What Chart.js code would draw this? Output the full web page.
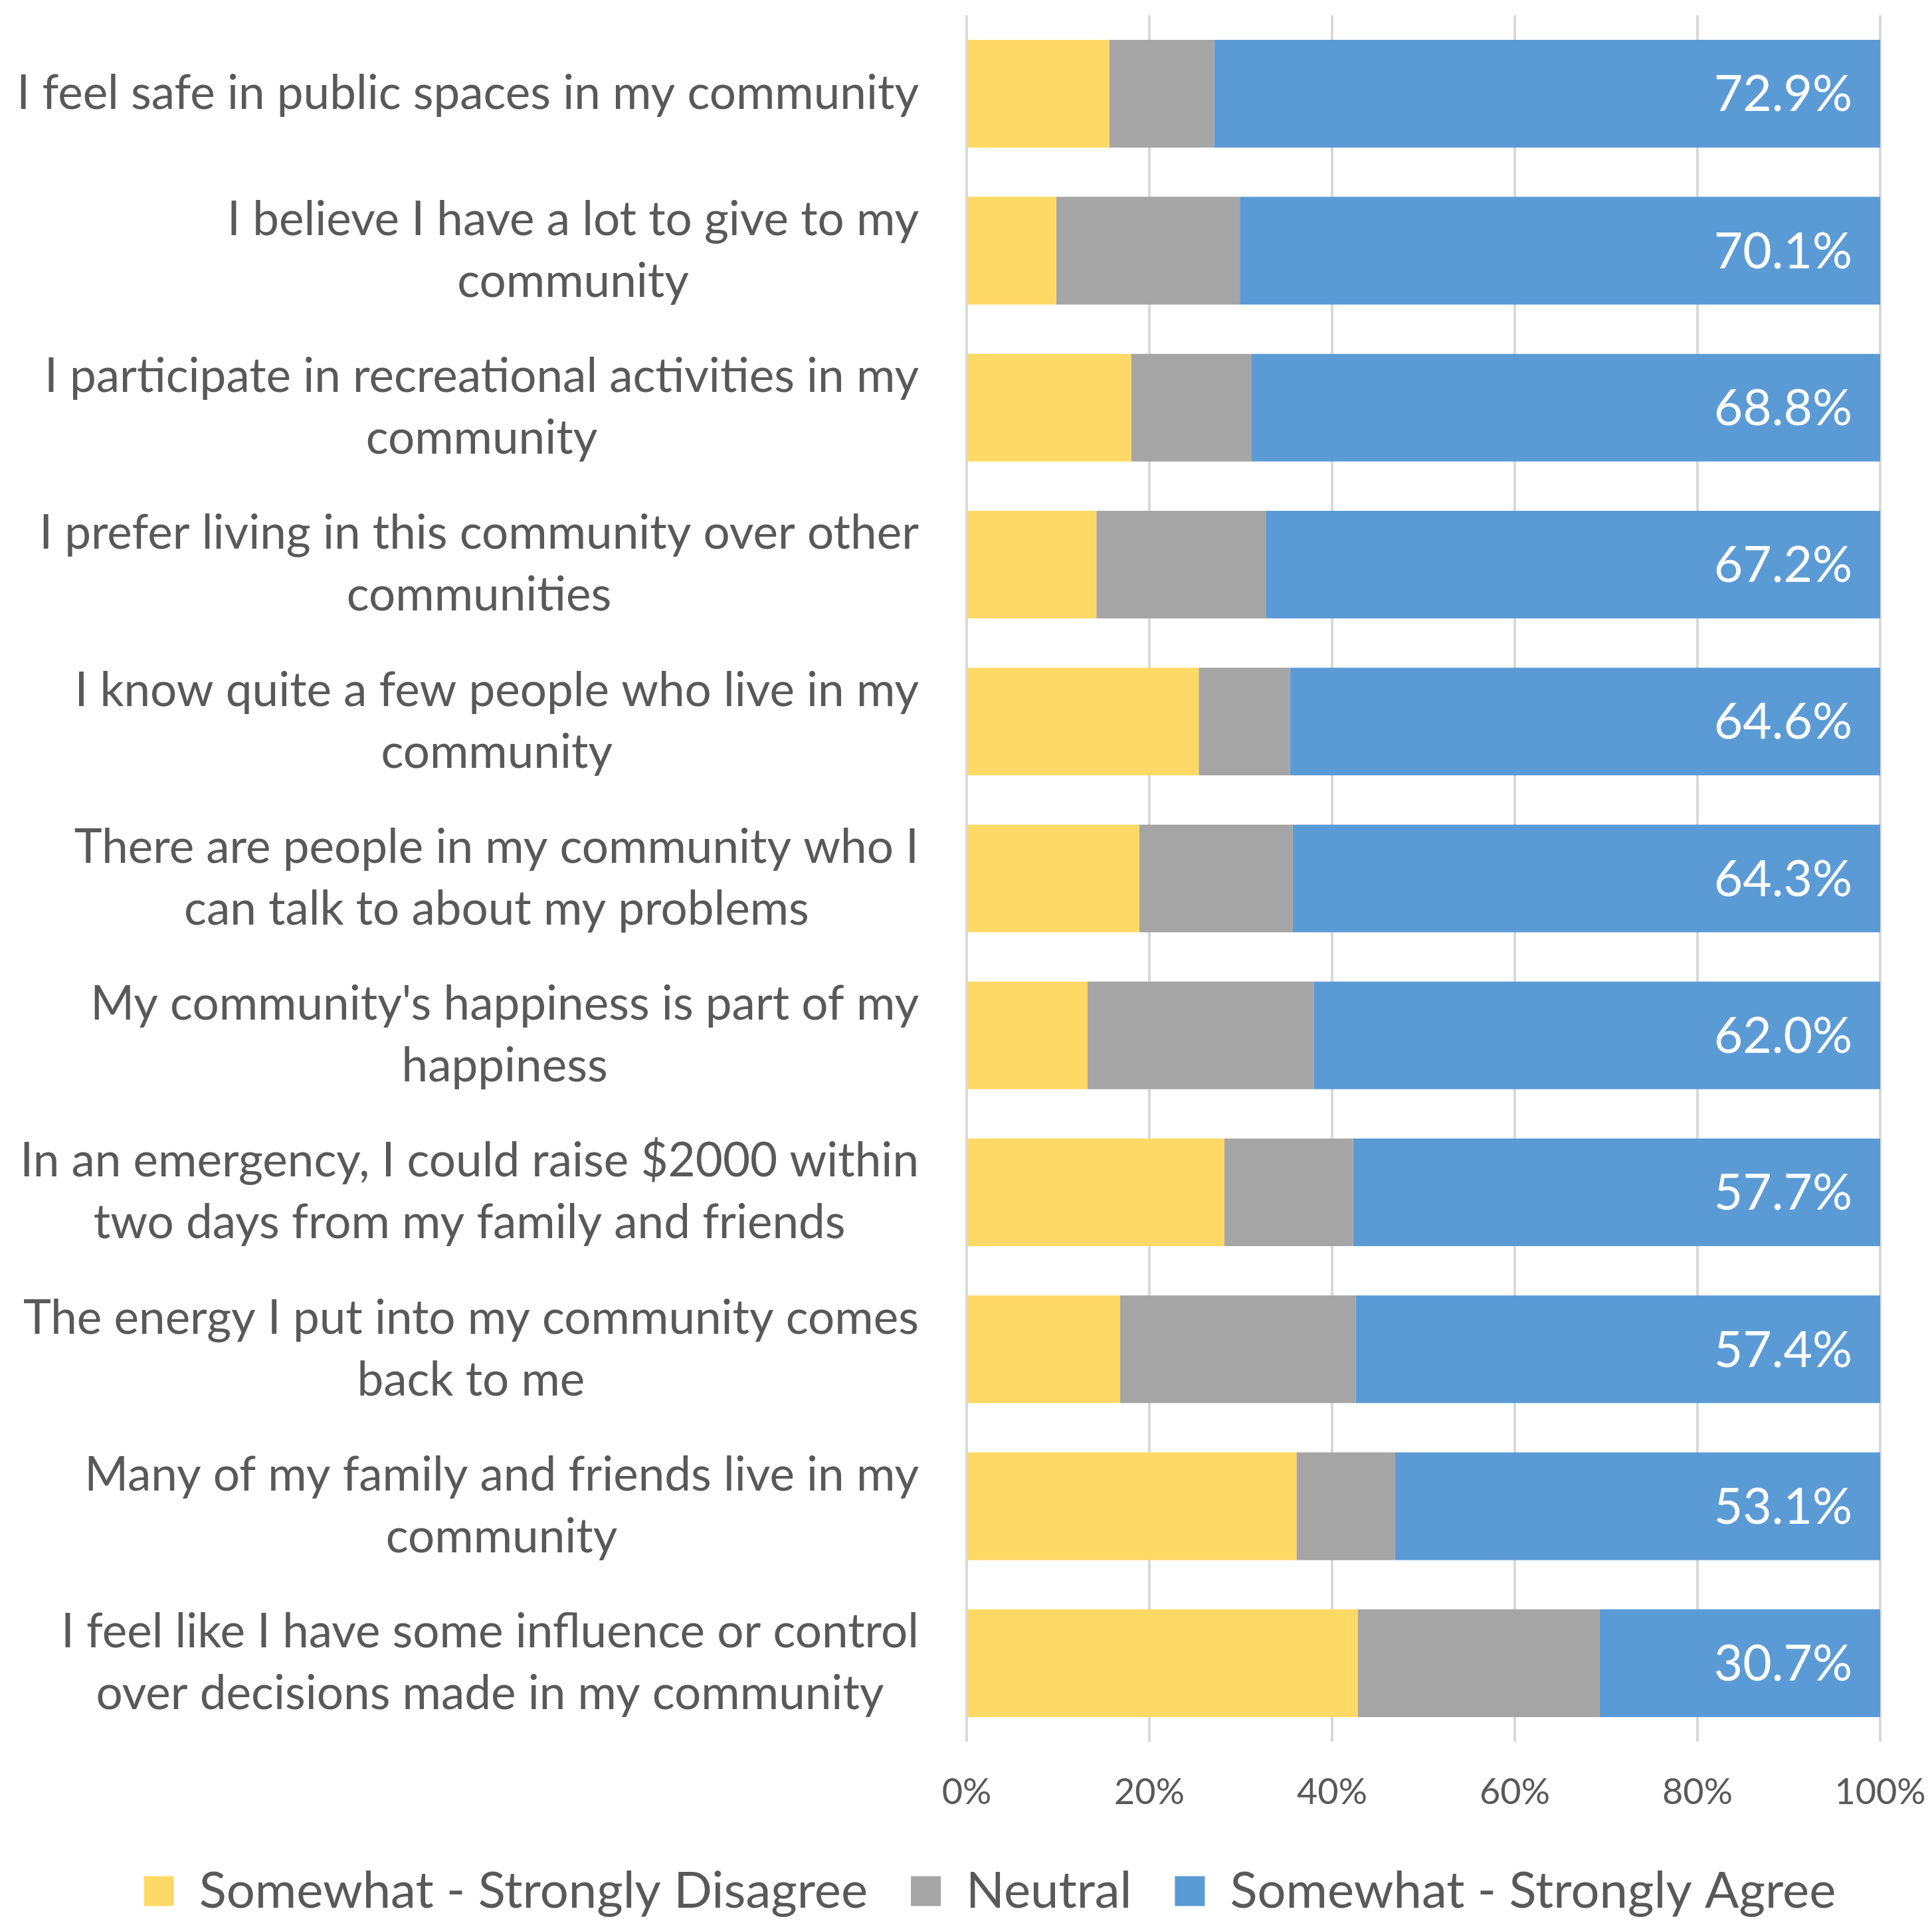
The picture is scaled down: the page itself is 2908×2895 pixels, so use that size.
<!DOCTYPE html>
<html>
<head>
<meta charset="utf-8">
<script src="https://cdn.jsdelivr.net/npm/chart.js@4.4.1/dist/chart.umd.min.js"></script>
<style>
  html, body { margin: 0; padding: 0; background: #fff; }
  #wrap { width: 2908px; height: 2895px; }
</style>
</head>
<body>
<div id="wrap"><canvas id="chart" width="2908" height="2895"></canvas></div>
<script>
// === Data ===
const statements = [
  "I feel safe in public spaces in my community",
  ["I believe I have a lot to give to my", "community"],
  ["I participate in recreational activities in my", "community"],
  ["I prefer living in this community over other", "communities"],
  ["I know quite a few people who live in my", "community"],
  ["There are people in my community who I", "can talk to about my problems"],
  ["My community's happiness is part of my", "happiness"],
  ["In an emergency, I could raise $2000 within", "two days from my family and friends"],
  ["The energy I put into my community comes", "back to me"],
  ["Many of my family and friends live in my", "community"],
  ["I feel like I have some influence or control", "over decisions made in my community"],
];

const disagree = [15.6, 9.8, 18.0, 14.2, 25.4, 18.9, 13.2, 28.2, 16.8, 36.1, 42.8];
const neutral = [11.5, 20.1, 13.2, 18.6, 10.0, 16.8, 24.8, 14.1, 25.8, 10.8, 26.5];
const agree = [72.9, 70.1, 68.8, 67.2, 64.6, 64.3, 62.0, 57.7, 57.4, 53.1, 30.7];

const seriesNames = ["Somewhat - Strongly Disagree", "Neutral", "Somewhat - Strongly Agree"];
const xTicks = [0, 20, 40, 60, 80, 100];

const FONT = "Lato, 'Noto Sans', sans-serif";
const TEXT = "#595959";

// y labels drawn by hand so wrapped lines are centred on each other (like Excel)
const statementLabels = {
  id: "statementLabels",
  afterDraw(chart) {
    const ctx = chart.ctx;
    const y = chart.scales.y;
    const rightEdge = 1383;
    const lineH = 93;
    ctx.save();
    ctx.font = `71px ${FONT}`;
    ctx.fillStyle = TEXT;
    ctx.textAlign = "center";
    ctx.textBaseline = "middle";
    statements.forEach((lab, i) => {
      const lines = Array.isArray(lab) ? lab : [lab];
      const w = Math.max(...lines.map((l) => ctx.measureText(l).width));
      const cx = Math.max(rightEdge - w / 2, w / 2 + 10);
      const cy = y.getPixelForTick(i);
      const y0 = cy - ((lines.length - 1) * lineH) / 2;
      lines.forEach((l, k) => ctx.fillText(l, cx, y0 + k * lineH));
    });
    ctx.restore();
  },
};

// value labels inside the end of the "agree" bars
const agreeLabels = {
  id: "agreeLabels",
  afterDatasetsDraw(chart) {
    const ctx = chart.ctx;
    const meta = chart.getDatasetMeta(2);
    ctx.save();
    ctx.font = `75px ${FONT}`;
    ctx.fillStyle = "#fff";
    ctx.textAlign = "right";
    ctx.textBaseline = "middle";
    meta.data.forEach((bar, i) => {
      ctx.fillText(agree[i].toFixed(1) + "%", bar.x - 42, bar.y + 2);
    });
    ctx.restore();
  },
};

new Chart(document.getElementById("chart"), {
  type: "bar",
  data: {
    labels: statements,
    datasets: [
      { label: seriesNames[0], data: disagree, backgroundColor: "#FFD966" },
      { label: seriesNames[1], data: neutral, backgroundColor: "#A5A5A5" },
      { label: seriesNames[2], data: agree, backgroundColor: "#5B9BD5" },
    ],
  },
  options: {
    indexAxis: "y",
    responsive: false,
    devicePixelRatio: 1,
    animation: false,
    datasets: {
      bar: { categoryPercentage: 1, barPercentage: 0.686, borderWidth: 0 },
    },
    layout: { padding: { top: 23, right: 78, left: 150, bottom: 0 } },
    scales: {
      x: {
        stacked: true,
        min: 0,
        max: 100,
        afterBuildTicks: (scale) => {
          scale.ticks = xTicks.map((v) => ({ value: v }));
        },
        afterFit: (scale) => {
          scale.height = 122;
          scale.paddingLeft = 0;
          scale.paddingRight = 0;
        },
        ticks: {
          callback: (v) => v + "%",
          color: TEXT,
          font: { family: FONT, size: 54 },
          padding: 44,
          maxRotation: 0,
        },
        grid: { color: "#D9D9D9", lineWidth: 4, drawTicks: false },
        border: { display: false },
      },
      y: {
        stacked: true,
        afterFit: (scale) => {
          scale.width = 1305;
        },
        ticks: { display: false },
        grid: { display: false },
        border: { display: false },
      },
    },
    plugins: {
      legend: {
        position: "bottom",
        labels: {
          color: TEXT,
          font: { family: FONT, size: 76 },
          boxWidth: 45,
          boxHeight: 45,
          padding: 65,
        },
      },
      tooltip: { enabled: false },
    },
  },
  plugins: [statementLabels, agreeLabels],
});
</script>
</body>
</html>
